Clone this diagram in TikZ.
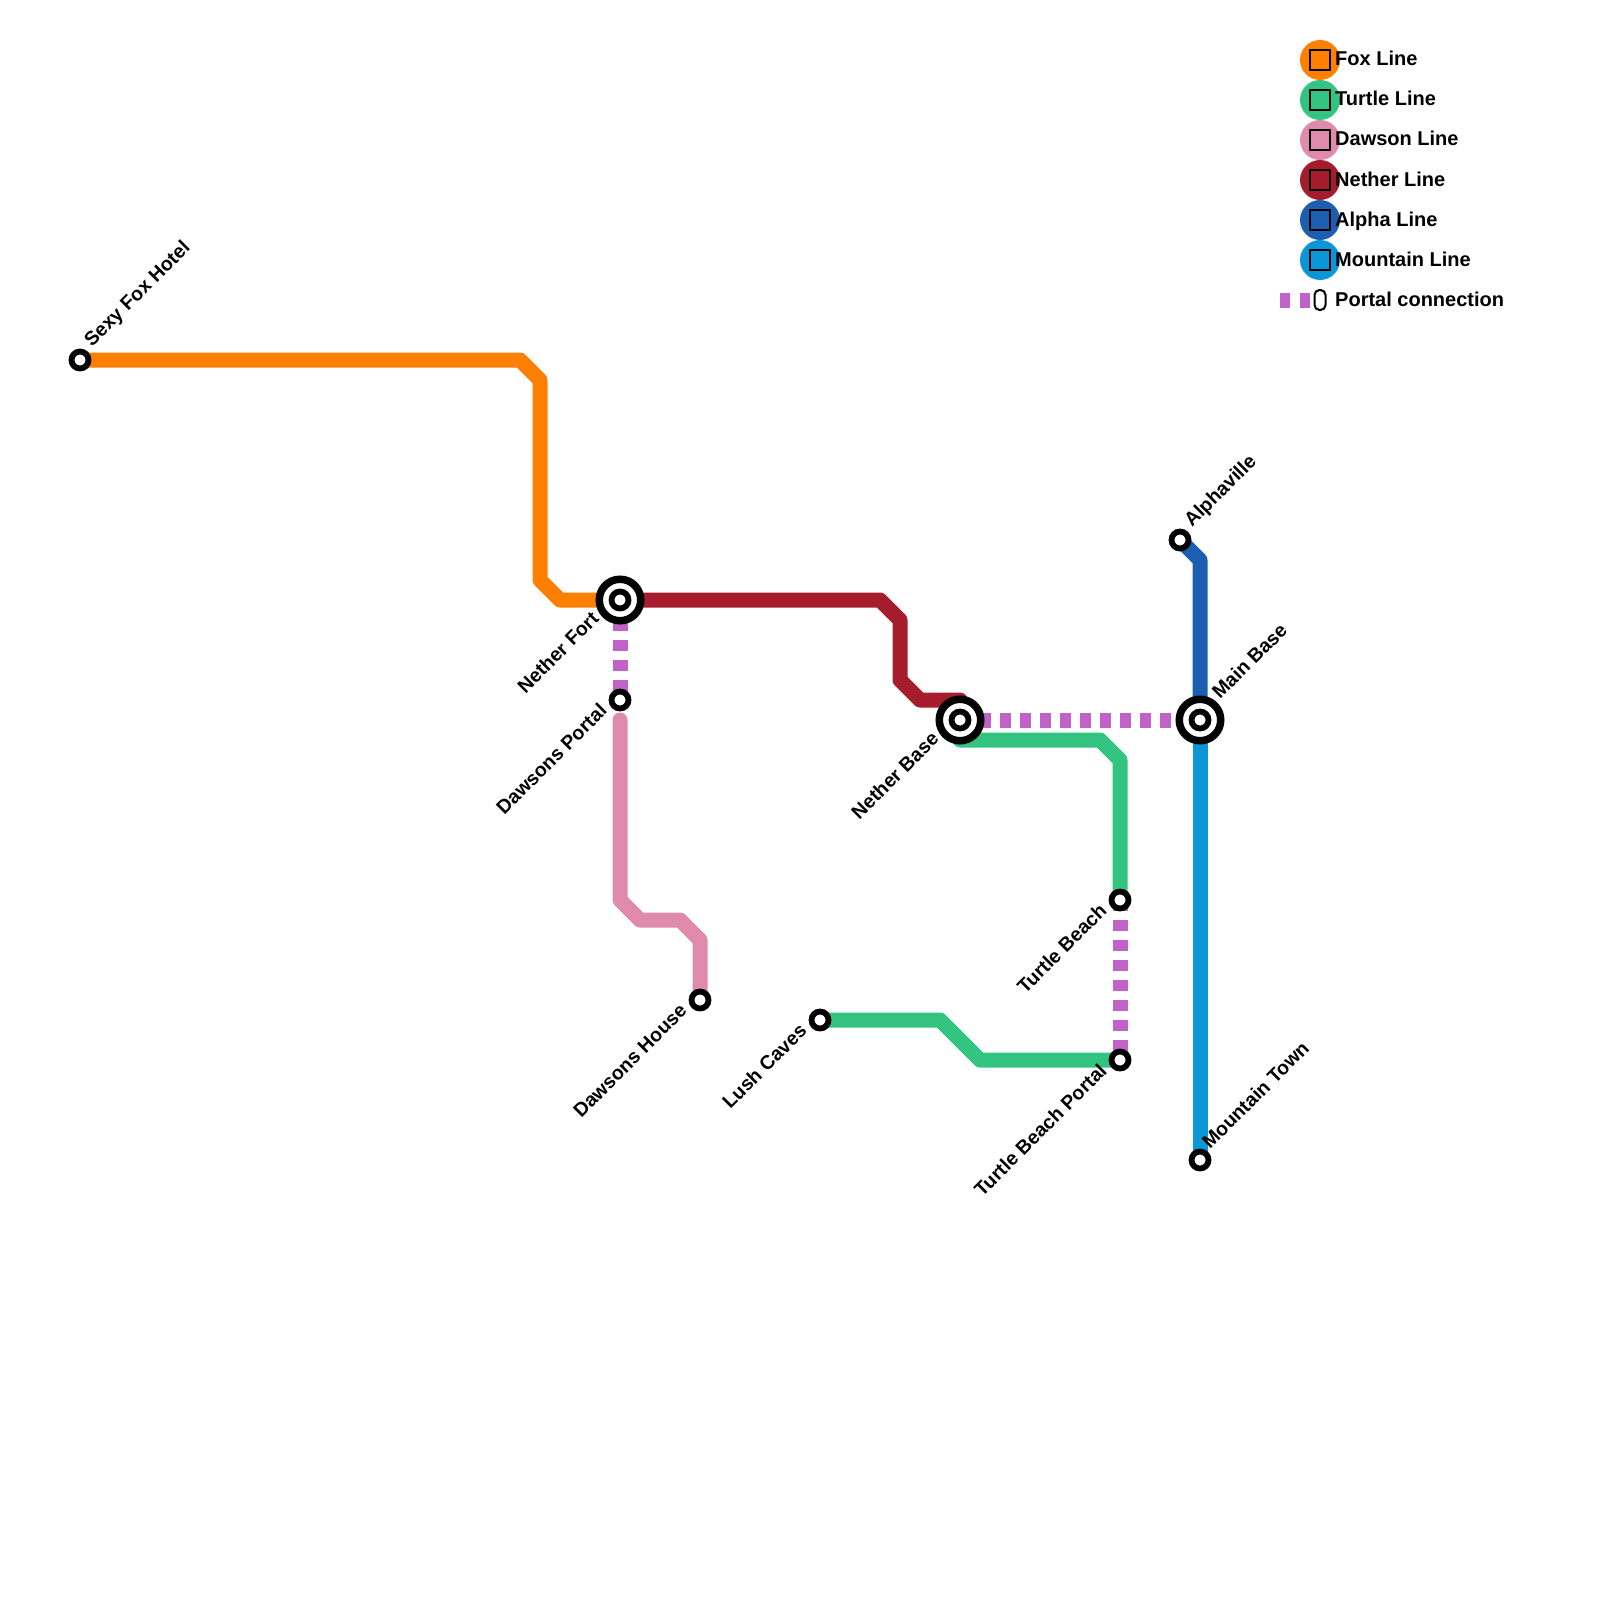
\documentclass[tikz,border=0pt]{standalone}
\usepackage{fontspec}
\setmainfont{Liberation Sans}
\usepackage{xcolor}
\definecolor{foxorange}{RGB}{255,128,0}
\definecolor{turtlegreen}{RGB}{50,196,128}
\definecolor{dawsonpink}{RGB}{224,139,172}
\definecolor{netherred}{RGB}{165,29,45}
\definecolor{alphablue}{RGB}{28,94,178}
\definecolor{mountainblue}{RGB}{10,150,215}
\definecolor{portalpurple}{RGB}{192,98,200}
\tikzset{
  metro/.style={line width=15pt,line cap=round,line join=round},
  portal/.style={line width=15pt,portalpurple,dash pattern=on 11pt off 9pt},
  stop/.style={circle,draw=black,fill=white,line width=5.8pt,minimum size=17pt,inner sep=0pt},
  hub/.style={circle,draw=black,fill=white,line width=7.5pt,minimum size=41.5pt,inner sep=0pt},
  lblr/.style={anchor=base west,rotate=45,inner sep=0pt,font=\bfseries\fontsize{19.5}{22}\selectfont},
  lbll/.style={anchor=base east,rotate=45,inner sep=0pt,font=\bfseries\fontsize{19.5}{22}\selectfont},
  keydot/.style={circle,fill=#1,minimum size=40pt,inner sep=0pt},
  keybox/.style={draw=black,line width=2pt,minimum size=20pt,inner sep=0pt},
  keytxt/.style={anchor=base west,inner sep=0pt,font=\bfseries\fontsize{20}{22}\selectfont}
}

\begin{document}
\begin{tikzpicture}[x=1pt,y=-1pt]
    \useasboundingbox (0,0) rectangle (1600,1600);

    % stations
    \coordinate (foxhotel) at (80,360);
    \coordinate (netherfort) at (620,600);
    \coordinate (dawsonsportal) at (620,700);
    \coordinate (dawsonshouse) at (700,1000);
    \coordinate (netherbase) at (960,720);
    \coordinate (mainbase) at (1200,720);
    \coordinate (alphaville) at (1180,540);
    \coordinate (mountaintown) at (1200,1160);
    \coordinate (turtlebeach) at (1120,900);
    \coordinate (turtleportal) at (1120,1060);
    \coordinate (lushcaves) at (820,1020);

    % lines
    \draw[metro,foxorange] (foxhotel) -- (520,360) -- (540,380) -- (540,580)
      -- (560,600) -- (netherfort);
    \draw[metro,netherred] (netherfort) -- (880,600) -- (900,620) -- (900,680)
      -- (920,700) -- (960,700) -- (netherbase);
    \draw[metro,dawsonpink] (620,720) -- (620,900) -- (640,920) -- (680,920)
      -- (700,940) -- (dawsonshouse);
    \draw[metro,turtlegreen] (netherbase) -- (960,740) -- (1100,740) -- (1120,760)
      -- (turtlebeach);
    \draw[metro,turtlegreen] (lushcaves) -- (940,1020) -- (980,1060) -- (turtleportal);
    \draw[metro,alphablue] (alphaville) -- (1200,560) -- (mainbase);
    \draw[metro,mountainblue] (mainbase) -- (mountaintown);

    % portals
    \draw[portal] (netherfort) -- (dawsonsportal);
    \draw[portal] (netherbase) -- (mainbase);
    \draw[portal] (turtlebeach) -- (turtleportal);

    % station markers
    \node[stop] (foxhotel-s) at (foxhotel) {};
    \node[hub] (netherfort-o) at (netherfort) {};
    \node[stop] (netherfort-s) at (netherfort) {};
    \node[stop] (dawsonsportal-s) at (dawsonsportal) {};
    \node[stop] (dawsonshouse-s) at (dawsonshouse) {};
    \node[hub] (netherbase-o) at (netherbase) {};
    \node[stop] (netherbase-s) at (netherbase) {};
    \node[hub] (mainbase-o) at (mainbase) {};
    \node[stop] (mainbase-s) at (mainbase) {};
    \node[stop] (alphaville-s) at (alphaville) {};
    \node[stop] (mountaintown-s) at (mountaintown) {};
    \node[stop] (turtlebeach-s) at (turtlebeach) {};
    \node[stop] (turtleportal-s) at (turtleportal) {};
    \node[stop] (lushcaves-s) at (lushcaves) {};

    % station names
    \node[lblr] (foxhotel-l) at ([shift={(12,-12)}]foxhotel) {Sexy Fox Hotel};
    \node[lblr] (alphaville-l) at ([shift={(12,-12)}]alphaville) {Alphaville};
    \node[lblr] (mainbase-l) at ([shift={(20,-20)}]mainbase) {Main Base};
    \node[lblr] (mountaintown-l) at ([shift={(10,-10)}]mountaintown) {Mountain Town};
    \node[lbll] (netherfort-l) at ([shift={(-20,20)}]netherfort) {Nether Fort};
    \node[lbll] (dawsonsportal-l) at ([shift={(-12,12)}]dawsonsportal) {Dawsons Portal};
    \node[lbll] (dawsonshouse-l) at ([shift={(-12,12)}]dawsonshouse) {Dawsons House};
    \node[lbll] (lushcaves-l) at ([shift={(-12,12)}]lushcaves) {Lush Caves};
    \node[lbll] (netherbase-l) at ([shift={(-20,20)}]netherbase) {Nether Base};
    \node[lbll] (turtlebeach-l) at ([shift={(-12,12)}]turtlebeach) {Turtle Beach};
    \node[lbll] (turtleportal-l) at ([shift={(-12,12)}]turtleportal) {Turtle Beach Portal};

    % legend
    \node[keydot=foxorange] (foxkey) at (1320,60) {};
    \node[keybox] (foxkey-b) at (foxkey) {};
    \node[keytxt] (foxkey-t) at (1335,66) {Fox Line};
    \node[keydot=turtlegreen] (turtlekey) at (1320,100) {};
    \node[keybox] (turtlekey-b) at (turtlekey) {};
    \node[keytxt] (turtlekey-t) at (1335,106) {Turtle Line};
    \node[keydot=dawsonpink] (dawsonkey) at (1320,140) {};
    \node[keybox] (dawsonkey-b) at (dawsonkey) {};
    \node[keytxt] (dawsonkey-t) at (1335,146) {Dawson Line};
    \node[keydot=netherred] (netherkey) at (1320,180) {};
    \node[keybox] (netherkey-b) at (netherkey) {};
    \node[keytxt] (netherkey-t) at (1335,186) {Nether Line};
    \node[keydot=alphablue] (alphakey) at (1320,220) {};
    \node[keybox] (alphakey-b) at (alphakey) {};
    \node[keytxt] (alphakey-t) at (1335,226) {Alpha Line};
    \node[keydot=mountainblue] (mountainkey) at (1320,260) {};
    \node[keybox] (mountainkey-b) at (mountainkey) {};
    \node[keytxt] (mountainkey-t) at (1335,266) {Mountain Line};
    \draw[portal,dash pattern=on 10pt off 10pt] (1280,300) -- (1310,300);
    \node[draw=black,line width=2pt,rounded corners=5pt,minimum width=11pt,
      minimum height=20pt,inner sep=0pt] (portalkey) at (1320,300) {};
    \node[keytxt] (portalkey-t) at (1335,306) {Portal connection};
\end{tikzpicture}
\end{document}
